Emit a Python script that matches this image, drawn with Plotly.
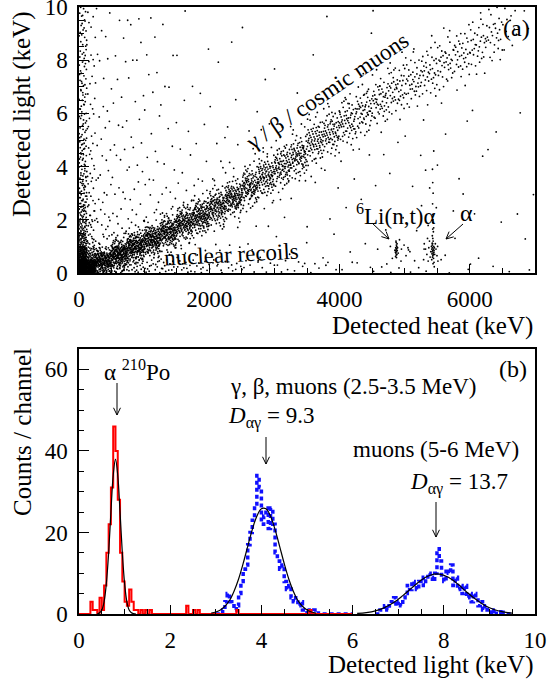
import math
import plotly.graph_objects as go

# ---------------- Panel (a): detected light vs detected heat ----------------
# Events read off the scatter picture as counts per cell.
heat_edges = [0, 120, 250, 500, 750, 1000, 1250, 1500, 1750, 2000, 2250, 2500, 2750,
              3000, 3250, 3500, 3750, 4000, 4250, 4500, 4750, 5000, 5250, 5500, 5750,
              6000, 6250, 6500, 6750, 7000]
# background (off-band) events, 0.5 keV light cells from 0 up to 10 keV, one list per heat bin
bg_light_edges = [0.0, 0.5, 1.0, 1.5, 2.0, 2.5, 3.0, 3.5, 4.0, 4.5, 5.0, 5.5, 6.0, 6.5,
                  7.0, 7.5, 8.0, 8.5, 9.0, 9.5, 10.0]
bg_counts = [
    [300, 90, 40, 26, 20, 16, 14, 13, 12, 11, 10, 9, 9, 8, 8, 8, 7, 7, 7, 7],
    [60, 25, 10, 8, 6, 5, 4, 4, 3, 3, 3, 3, 2, 2, 2, 2, 2, 2, 2, 2],
    [20, 10, 8, 5, 4, 3, 3, 3, 2, 2, 2, 2, 2, 1, 2, 1, 2, 1, 1, 2],
    [25, 8, 6, 4, 3, 2, 2, 2, 2, 2, 1, 2, 1, 1, 1, 1, 1, 1, 1, 1],
    [20, 6, 4, 4, 3, 2, 2, 2, 1, 2, 1, 1, 1, 1, 1, 1, 1, 1, 1, 1],
    [15, 5, 2, 3, 3, 2, 2, 1, 2, 1, 1, 1, 1, 1, 1, 1, 1, 1, 0, 1],
    [13, 4, 2, 1, 2, 2, 2, 1, 1, 1, 1, 1, 1, 1, 1, 0, 1, 0, 1, 0],
    [11, 3, 1, 1, 1, 2, 2, 1, 1, 1, 1, 0, 1, 0, 1, 0, 1, 0, 0, 1],
    [10, 2, 1, 1, 1, 1, 2, 1, 1, 1, 0, 1, 0, 1, 0, 0, 1, 0, 0, 0],
    [8, 2, 1, 1, 1, 1, 1, 2, 1, 1, 1, 0, 1, 0, 0, 1, 0, 0, 0, 0],
    [7, 1, 1, 1, 0, 1, 1, 2, 1, 1, 1, 0, 0, 1, 0, 0, 0, 1, 0, 0],
    [6, 1, 1, 1, 1, 0, 1, 1, 2, 1, 1, 0, 1, 0, 0, 0, 0, 0, 1, 0],
    [5, 1, 0, 1, 1, 1, 0, 1, 1, 2, 1, 1, 0, 0, 1, 0, 0, 0, 0, 0],
    [4, 1, 1, 0, 1, 1, 1, 0, 1, 1, 1, 1, 0, 0, 0, 1, 0, 0, 0, 0],
    [4, 0, 1, 0, 0, 1, 1, 1, 0, 1, 1, 1, 0, 1, 0, 0, 0, 0, 0, 0],
    [3, 1, 0, 1, 0, 0, 1, 1, 0, 0, 1, 1, 1, 0, 0, 0, 1, 0, 0, 0],
    [3, 0, 1, 0, 1, 0, 1, 1, 0, 0, 0, 1, 1, 1, 0, 0, 0, 0, 0, 1],
    [2, 1, 0, 0, 1, 0, 0, 1, 1, 0, 0, 0, 1, 1, 0, 0, 0, 0, 0, 0],
    [2, 0, 1, 0, 0, 1, 0, 0, 1, 1, 0, 0, 0, 1, 1, 0, 0, 0, 1, 0],
    [3, 1, 0, 1, 0, 0, 1, 0, 1, 0, 0, 0, 0, 0, 1, 1, 0, 0, 0, 1],
    [3, 1, 0, 0, 1, 0, 0, 1, 0, 1, 0, 0, 0, 0, 0, 1, 1, 0, 0, 0],
    [3, 1, 0, 1, 0, 0, 1, 0, 1, 0, 1, 0, 0, 0, 0, 0, 1, 0, 0, 0],
    [2, 1, 1, 1, 1, 1, 1, 1, 0, 1, 0, 1, 0, 0, 0, 0, 0, 1, 0, 0],
    [2, 1, 0, 0, 1, 0, 0, 0, 1, 0, 1, 0, 1, 0, 0, 0, 0, 0, 1, 0],
    [1, 0, 1, 0, 0, 1, 0, 1, 0, 0, 0, 1, 0, 1, 0, 0, 0, 0, 0, 0],
    [1, 1, 0, 0, 1, 0, 0, 0, 1, 0, 0, 0, 1, 0, 0, 0, 0, 0, 0, 1],
    [1, 0, 0, 1, 0, 0, 0, 0, 0, 1, 1, 0, 0, 0, 0, 0, 0, 0, 0, 0],
    [1, 0, 0, 0, 1, 0, 0, 0, 0, 0, 0, 0, 0, 0, 0, 0, 1, 0, 0, 0],
    [1, 0, 1, 0, 0, 1, 0, 0, 0, 0, 0, 0, 1, 0, 0, 0, 0, 0, 1, 1],
]
# gamma/beta/muon band: 0.25 keV light cells, starting at band_start light, one list per heat bin
band_cell = 0.25
band_start = [0.0, 0.0, 0.0, 0.0, 0.25, 0.5, 0.75, 1.0, 1.25, 1.5, 1.75, 2.25, 2.5, 3.0,
              3.25, 3.75, 4.25, 4.5, 5.0, 5.25, 5.75, 6.0, 6.25, 6.75, 7.0, 7.25, 7.75, 8.5, 0.0]
band_counts = [
    [],
    [70, 40, 10],
    [30, 75, 60, 15],
    [6, 30, 70, 60, 20, 4],
    [5, 25, 60, 60, 25, 5],
    [5, 25, 55, 55, 25, 5],
    [4, 18, 45, 52, 30, 9, 2],
    [3, 13, 35, 48, 35, 13, 3],
    [3, 12, 30, 43, 33, 14, 4, 1],
    [2, 8, 22, 35, 35, 20, 6, 2],
    [1, 4, 14, 30, 36, 24, 9, 2],
    [2, 6, 17, 30, 29, 18, 6, 2],
    [1, 3, 10, 21, 28, 22, 11, 3, 1],
    [2, 6, 14, 22, 22, 14, 7, 2, 1],
    [1, 3, 9, 17, 22, 18, 10, 4, 1],
    [1, 3, 7, 13, 18, 16, 10, 5, 2],
    [2, 5, 10, 15, 16, 12, 6, 3, 1],
    [1, 3, 6, 11, 13, 12, 8, 4, 2],
    [2, 4, 7, 10, 12, 10, 6, 3, 1],
    [1, 2, 5, 8, 10, 10, 7, 4, 2, 1],
    [2, 3, 5, 8, 9, 8, 5, 3, 2],
    [1, 2, 4, 6, 8, 8, 5, 3, 2, 1],
    [1, 2, 3, 5, 7, 7, 6, 4, 2, 1],
    [1, 2, 4, 6, 7, 6, 5, 2, 1, 1],
    [1, 2, 3, 5, 7, 7, 5, 3, 1, 1],
    [1, 1, 3, 4, 6, 6, 5, 3, 2, 1],
    [1, 2, 3, 4, 5, 5, 4, 2, 2],
    [1, 2, 2, 3, 2, 2],
    [],
]
# 6Li(n,t)alpha cluster events (heat keV, light keV)
li6_heat = [4860, 4865, 4870, 4872, 4868, 4875, 4880, 4862, 4878, 4885, 4858, 4874, 4866,
            4890, 4882, 4870, 4876, 4864, 4900, 4950, 4990, 5020, 5050, 5080, 4920, 4810, 4780]
li6_light = [0.62, 0.75, 0.90, 1.05, 1.15, 0.80, 0.70, 0.95, 1.00, 0.85, 0.78, 0.58, 1.20,
             0.95, 1.10, 0.68, 0.92, 0.85, 0.75, 0.90, 1.05, 0.65, 0.95, 0.80, 1.25, 0.55, 1.00]
# alpha cluster events (heat keV, light keV)
alpha_heat = [5430, 5425, 5435, 5440, 5420, 5445, 5428, 5432, 5438, 5422, 5450, 5415, 5436,
              5426, 5442, 5418, 5448, 5431, 5424, 5440, 5455, 5410, 5460, 5400, 5470, 5390,
              5480, 5380, 5495, 5370, 5350, 5340, 5505, 5320, 5300, 5290, 5360, 5450, 5415,
              5435, 5510, 5445, 5430, 5432, 5428, 5436, 5430, 5426, 5434, 5430]
alpha_light = [0.85, 0.95, 0.75, 0.90, 0.80, 1.00, 1.10, 0.65, 0.70, 1.05, 0.85, 0.90, 1.20,
               0.60, 0.55, 0.72, 0.78, 1.30, 1.40, 1.55, 0.95, 1.00, 0.70, 0.80, 1.10, 0.60,
               0.90, 1.20, 0.65, 0.95, 1.30, 0.70, 1.00, 0.90, 1.10, 0.50, 0.45, 0.40, 0.50,
               0.35, 0.45, 1.70, 1.90, 2.20, 2.60, 3.00, 3.40, 3.90, 2.00, 1.65]

# ---------------- Panel (b): light histograms ----------------
bin_width = 0.05
red_start = 0.0   # alpha 210Po
red_counts = [0, 0, 0, 0, 0, 3, 1, 1, 0, 4, 1, 7, 15, 22, 31, 46, 40, 28, 15, 8,
              3, 2, 6, 3, 1, 1, 0, 1, 0, 1, 0, 1, 0, 0, 0, 0, 0, 0, 0, 0,
              0, 0, 0, 0, 0, 0, 0, 2, 0, 0, 1, 0, 1, 0, 0, 0, 0, 0, 0, 0,
              0, 0, 0, 0, 0, 0, 0, 0, 0, 1, 0, 0, 0, 0, 0, 0, 0, 0, 0, 0,
              0, 0, 0, 0, 0, 0, 0, 0, 0, 0, 0, 0, 0, 0, 0, 0, 0, 0, 0, 0,
              0, 1, 0, 0, 0, 0, 0, 0, 0, 0, 0, 0, 0, 0, 0, 0, 0, 0, 0, 0]
blue1_start = 3.0  # gamma, beta, muons 2.5-3.5 MeV
blue1_counts = [0, 0, 0, 1, 3, 5, 3, 2, 1, 2, 5, 8, 11, 12, 17, 20, 23, 27, 34, 31,
                22, 24, 26, 21, 26, 22, 15, 13, 11, 12, 8, 6, 7, 4, 3, 4, 2, 3, 1, 1,
                0, 1, 0, 1, 1, 0, 0, 0, 0, 0, 0, 0, 0, 0, 0, 0, 0, 0, 0, 0]
blue2_start = 6.5  # muons 5-6 MeV
blue2_counts = [0, 0, 1, 1, 2, 1, 2, 3, 4, 2, 3, 2, 4, 5, 7, 6, 8, 7, 6, 8,
                7, 9, 8, 10, 9, 8, 10, 16, 13, 9, 8, 11, 10, 12, 7, 9, 6, 7, 5, 7,
                4, 5, 3, 5, 4, 2, 3, 1, 2, 1, 1, 0, 1, 0, 0, 1, 0, 0, 0, 0]
# Gaussian fit curves
fit1_x = [0.40, 0.45, 0.50, 0.55, 0.60, 0.65, 0.70, 0.75, 0.80, 0.85, 0.90, 0.95, 1.00,
          1.05, 1.10, 1.15, 1.20, 1.25]
fit1_y = [0, 0.3, 1, 3, 7.5, 15, 25, 34, 38, 34, 25, 15, 7.5, 3, 1, 0.3, 0.1, 0]
fit2_x = [2.9, 3.0, 3.1, 3.2, 3.3, 3.4, 3.5, 3.6, 3.7, 3.8, 3.9, 4.0, 4.1, 4.2, 4.3, 4.4,
          4.5, 4.6, 4.7, 4.8, 4.9, 5.0, 5.1, 5.2]
fit2_y = [0.2, 0.5, 1, 1.9, 3.3, 5.6, 8.6, 12.4, 16.6, 20.7, 24, 25.8, 25.8, 24, 20.7, 16.6,
          12.4, 8.6, 5.6, 3.3, 1.9, 1, 0.5, 0.2]
fit3_x = [6.1, 6.3, 6.5, 6.7, 6.9, 7.1, 7.3, 7.5, 7.7, 7.9, 8.1, 8.3, 8.5, 8.7, 8.9, 9.1,
          9.3, 9.5]
fit3_y = [0.14, 0.35, 0.78, 1.56, 2.8, 4.5, 6.4, 8.3, 9.5, 9.8, 9.0, 7.4, 5.4, 3.6, 2.1,
          1.1, 0.53, 0.22]

# ---------------- build marks ----------------
FONT = "Liberation Serif, Times New Roman, serif"
W, H = 547, 681


def halton(i, b):
    f, r = 1.0, 0.0
    while i > 0:
        f /= b
        r += f * (i % b)
        i //= b
    return r


# deterministic, evenly spread placement of each counted event inside its cell
sx, sy = [], []
g = 0


def fill_cell(h0, h1, l0, l1, n):
    global g
    for _ in range(n):
        g += 1
        sx.append(h0 + halton(g, 2) * (h1 - h0))
        sy.append(l0 + halton(g, 3) * (l1 - l0))


for j in range(len(heat_edges) - 1):
    h0, h1 = heat_edges[j], heat_edges[j + 1]
    for i, n in enumerate(bg_counts[j]):
        fill_cell(h0, h1, bg_light_edges[i], bg_light_edges[i + 1], n)
    for i, n in enumerate(band_counts[j]):
        l0 = band_start[j] + i * band_cell
        fill_cell(h0, h1, l0, l0 + band_cell, n)
sx += li6_heat + alpha_heat
sy += li6_light + alpha_light


def steps(start, counts):
    xs, ys = [start], [0]
    for k, c in enumerate(counts):
        a = start + k * bin_width
        xs += [a, a + bin_width]
        ys += [c, c]
    xs.append(start + len(counts) * bin_width)
    ys.append(0)
    return xs, ys


fig = go.Figure()
fig.add_trace(go.Scatter(x=sx, y=sy, mode="markers", xaxis="x", yaxis="y",
                         marker=dict(size=1.8, color="black", line=dict(width=0)),
                         hoverinfo="skip", showlegend=False))

for start, counts in [(blue1_start, blue1_counts), (blue2_start, blue2_counts)]:
    bx, by = steps(start, counts)
    fig.add_trace(go.Scatter(x=bx, y=by, mode="lines", xaxis="x2", yaxis="y2",
                             line=dict(color="#1010ff", width=3.5, dash="4px,3px"),
                             showlegend=False, hoverinfo="skip"))
rx, ry = steps(red_start, red_counts)
fig.add_trace(go.Scatter(x=rx, y=ry, mode="lines", xaxis="x2", yaxis="y2",
                         line=dict(color="#ff0000", width=2), showlegend=False,
                         hoverinfo="skip"))
for fx, fy in [(fit1_x, fit1_y), (fit2_x, fit2_y), (fit3_x, fit3_y)]:
    fig.add_trace(go.Scatter(x=fx, y=fy, mode="lines", xaxis="x2", yaxis="y2",
                             line=dict(color="black", width=1.2, shape="spline"),
                             showlegend=False, hoverinfo="skip"))


def px(x):
    return x / W


def py(y):
    return 1 - y / H


axis_common = dict(showline=True, mirror=True, linecolor="black", linewidth=1.5,
                   ticks="inside", tickcolor="black", tickwidth=1, showgrid=False,
                   zeroline=False, automargin=False, ticklabeloverflow="allow",
                   tickfont=dict(family=FONT, size=23, color="black"),
                   ticklabelstandoff=5)
xdom = [px(79), px(535)]
fig.update_layout(
    width=W, height=H, margin=dict(l=0, r=0, t=0, b=0, pad=0), autosize=False,
    paper_bgcolor="white", plot_bgcolor="white", showlegend=False,
    xaxis=dict(domain=xdom, anchor="y", range=[0, 7000], tickvals=[0, 2000, 4000, 6000],
               ticklen=9, minor=dict(dtick=500, tick0=0, ticklen=5, ticks="inside",
                                     tickcolor="black", showgrid=False), **axis_common),
    yaxis=dict(domain=[py(273), py(7)], anchor="x", range=[0, 10], tickvals=[0, 2, 4, 6, 8, 10],
               ticklen=10, minor=dict(dtick=0.5, tick0=0, ticklen=5, ticks="inside",
                                      tickcolor="black", showgrid=False), **axis_common),
    xaxis2=dict(domain=xdom, anchor="y2", range=[0, 10], tickvals=[0, 2, 4, 6, 8, 10],
                ticklen=9, minor=dict(dtick=0.5, tick0=0, ticklen=5, ticks="inside",
                                      tickcolor="black", showgrid=False), **axis_common),
    yaxis2=dict(domain=[py(614), py(349)], anchor="x2", range=[0, 65], tickvals=[0, 20, 40, 60],
                ticklen=10, minor=dict(dtick=5, tick0=0, ticklen=5, ticks="inside",
                                       tickcolor="black", showgrid=False), **axis_common),
)

ann = []
shapes = []


def text(t, x, y, size=23, angle=0, xanchor="center"):
    ann.append(dict(text=t, x=px(x), y=py(y), xref="paper", yref="paper", showarrow=False,
                    textangle=angle, xanchor=xanchor, yanchor="middle",
                    font=dict(family=FONT, size=size, color="black")))


def arrow(xt, yt, xs_, ys_, head=8, spread=0.45):
    # thin shaft with an open V head, tip at (xt, yt); positions in pixels
    dx, dy = xt - xs_, yt - ys_
    n = math.hypot(dx, dy)
    ux, uy = dx / n, dy / n
    pts = []
    for s in (spread, -spread):
        c, si = math.cos(s), math.sin(s)
        rx_, ry_ = ux * c - uy * si, ux * si + uy * c
        pts.append((xt - head * rx_, yt - head * ry_))
    path = (f"M{px(xs_)},{py(ys_)} L{px(xt)},{py(yt)} "
            f"M{px(pts[0][0])},{py(pts[0][1])} L{px(xt)},{py(yt)} L{px(pts[1][0])},{py(pts[1][1])}")
    shapes.append(dict(type="path", path=path, xref="paper", yref="paper",
                       line=dict(color="black", width=1)))


# axis titles
text("Detected light (keV)", 22, 115, size=25, angle=-90)
text("Detected heat (keV)", 535, 326, size=25, xanchor="right")
text("Counts / channel", 22, 432, size=25, angle=-90)
text("Detected light (keV)", 535, 665, size=25, xanchor="right")
# panel (a)
text("(a)", 516, 28, size=24)
text("γ / β / cosmic muons", 327, 92, size=23, angle=-34)
text("nuclear recoils", 232, 254, size=23, angle=-3)
text("<sup>6</sup>Li(n,t)α", 396, 214, size=23)
arrow(389, 239, 372, 223)
text("α", 466, 213, size=24)
arrow(446, 239, 463, 224)
# panel (b)
text("(b)", 513, 369, size=24)
text("α <sup>210</sup>Po", 137, 370, size=23)
arrow(117, 415, 117, 383)
text("γ, β, muons (2.5-3.5 MeV)", 353, 386, size=23)
text("<i>D</i><sub>αγ</sub> = 9.3", 271, 417, size=23)
arrow(266, 464, 266, 437)
text("muons (5-6 MeV)", 436, 449, size=23)
text("<i>D</i><sub>αγ</sub> = 13.7", 459, 483, size=23)
arrow(436, 537, 436, 502)

fig.update_layout(annotations=ann, shapes=shapes)
fig.write_html("out.html")
